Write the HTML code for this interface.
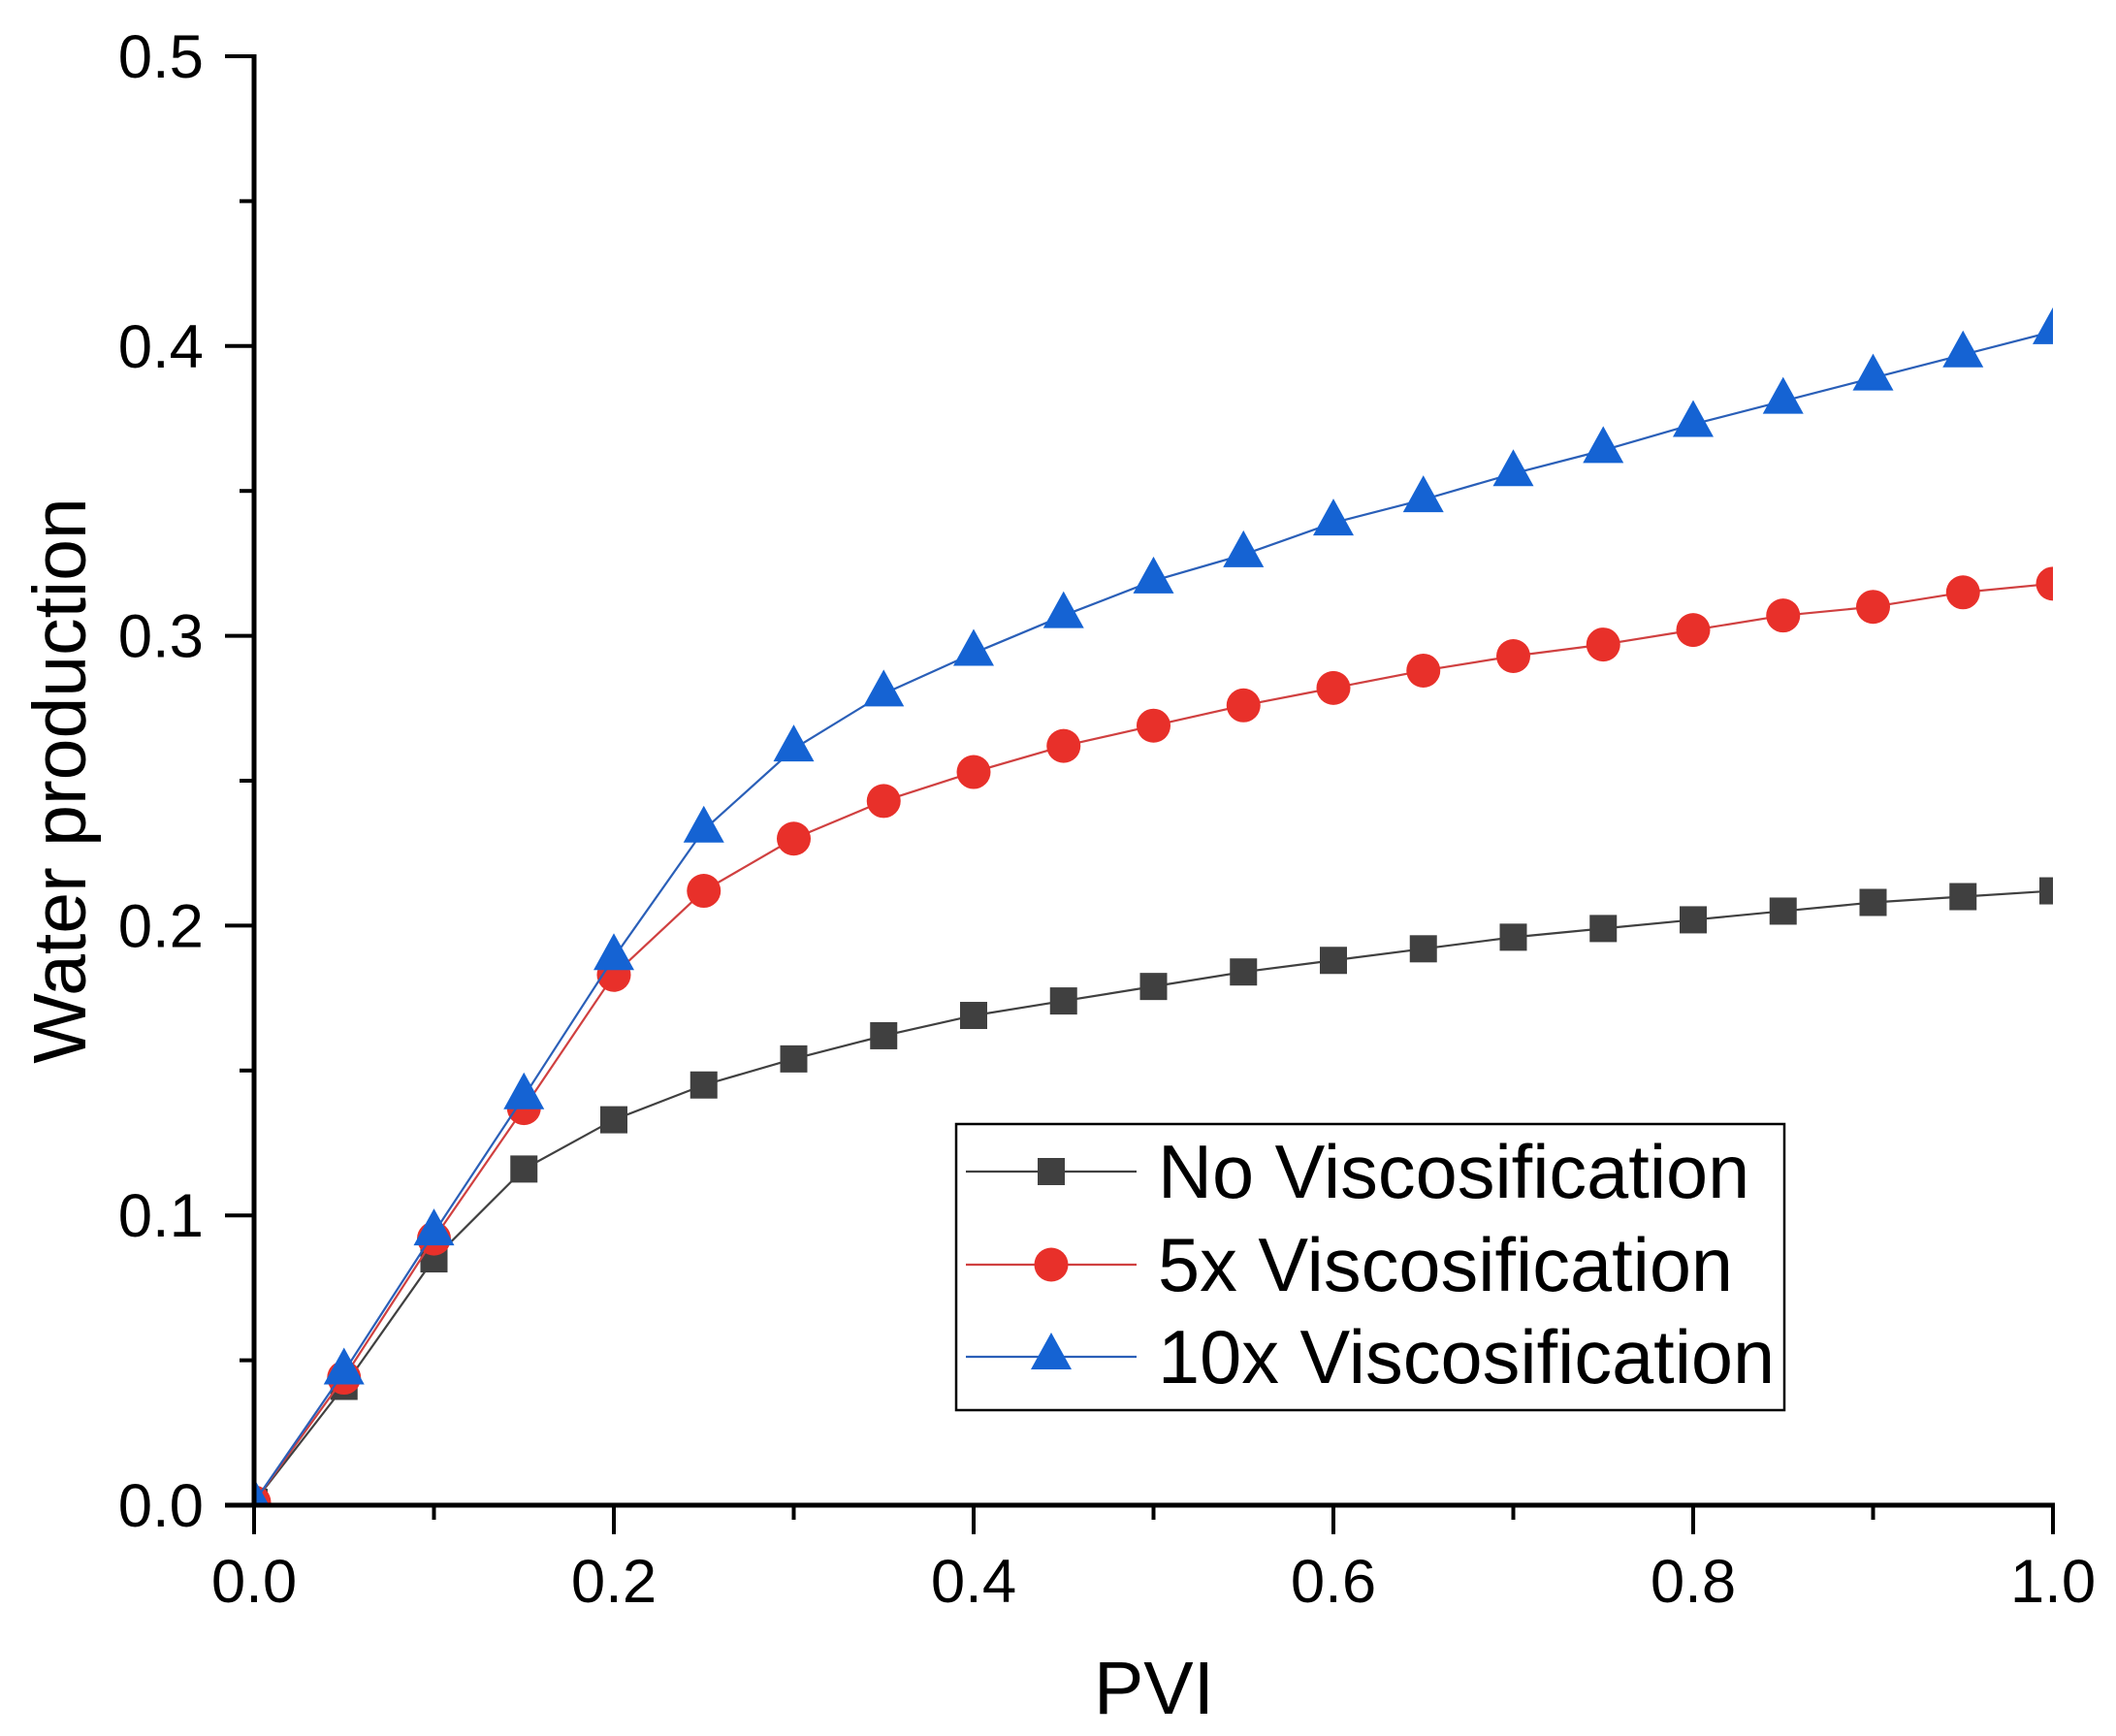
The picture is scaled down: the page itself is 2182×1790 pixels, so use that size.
<!DOCTYPE html>
<html><head><meta charset="utf-8"><style>
html,body{margin:0;padding:0;background:#fff;}
svg{display:block;font-family:"Liberation Sans",Arial,sans-serif;}
</style></head><body>
<svg id="chart" width="2182" height="1790" viewBox="0 0 2182 1790" xmlns="http://www.w3.org/2000/svg">
<defs><clipPath id="plotclip"><rect x="262" y="40" width="1855" height="1512"/></clipPath></defs>
<g id="series" clip-path="url(#plotclip)"></g>
<g id="axes"></g>
<text x="0" y="0" transform="translate(88,805) rotate(-90)" font-size="77" text-anchor="middle" fill="#000">Water production</text>
<text x="1190" y="1767" font-size="77" text-anchor="middle" fill="#000">PVI</text>
<g id="legend"></g>
</svg>
<script>
const pvi = [0,0.05,0.1,0.15,0.2,0.25,0.3,0.35,0.4,0.45,0.5,0.55,0.6,0.65,0.7,0.75,0.8,0.85,0.9,0.95,1.0];
const noVisc = [0.001,0.041,0.085,0.116,0.133,0.145,0.154,0.162,0.169,0.174,0.179,0.184,0.188,0.192,0.196,0.199,0.202,0.205,0.208,0.210,0.212];
const visc5x = [0.001,0.044,0.092,0.137,0.183,0.212,0.230,0.243,0.253,0.262,0.269,0.276,0.282,0.288,0.293,0.297,0.302,0.307,0.310,0.315,0.318];
const visc10x = [0.001,0.046,0.094,0.141,0.189,0.233,0.261,0.280,0.294,0.307,0.319,0.328,0.339,0.347,0.356,0.364,0.373,0.381,0.389,0.397,0.405];
const seriesNames = ["No Viscosification","5x Viscosification","10x Viscosification"];
const xTickLabels = ["0.0","0.2","0.4","0.6","0.8","1.0"];
const yTickLabels = ["0.0","0.1","0.2","0.3","0.4","0.5"];

const NS="http://www.w3.org/2000/svg";
const X0=262,X1=2117,Y0=1552,Y1=58;
const xs=v=>X0+(X1-X0)*v/1.0;
const ys=v=>Y0-(Y0-Y1)*v/0.5;
function mk(tag,attrs,parent){const e=document.createElementNS(NS,tag);for(const k in attrs)e.setAttribute(k,attrs[k]);parent.appendChild(e);return e;}
const axes=document.getElementById('axes');
let a=mk('line',{x1:X0,y1:Y0,x2:X0,y2:Y1-2,stroke:'#000','stroke-width':5},axes);


a=mk('line',{x1:232,y1:Y0,x2:X1+2,y2:Y0,stroke:'#000','stroke-width':5},axes);


for(let i=0;i<=10;i++){const v=i*0.05,y=ys(v),major=i%2===0;
 const t=mk('line',{x1:X0,y1:y,x2:X0-(major?30:15),y2:y,stroke:'#000','stroke-width':4},axes);
 
 }
yTickLabels.forEach((s,i)=>{const t=mk('text',{x:210,y:ys(i*0.1)+22,'font-size':63.5,'text-anchor':'end',fill:'#000'},axes);t.textContent=s;
 
 });
for(let i=0;i<=10;i++){const v=i*0.1,x=xs(v),major=i%2===0;
 const t=mk('line',{x1:x,y1:Y0,x2:x,y2:Y0+(major?30:15),stroke:'#000','stroke-width':4},axes);
 
 }
xTickLabels.forEach((s,i)=>{const t=mk('text',{x:xs(i*0.2),y:1652,'font-size':63.5,'text-anchor':'middle',fill:'#000'},axes);t.textContent=s;
 
 });

const colors=['#404040','#e8302a','#1563d3'];
const lineColors=['#404040','#d04040','#2a5fb8'];
const shapes=['square','circle','triangle'];
function marker(shape,cx,cy,col,parent){let m;
 if(shape==='square')m=mk('rect',{x:cx-14,y:cy-14,width:28,height:28,fill:col},parent);
 else if(shape==='circle')m=mk('circle',{cx:cx,cy:cy,r:17.5,fill:col},parent);
 else m=mk('polygon',{points:`${cx},${cy-25} ${cx+21},${cy+13} ${cx-21},${cy+13}`,fill:col},parent);
 return m;}
const series=document.getElementById('series');
[noVisc,visc5x,visc10x].forEach((arr,si)=>{
 const g=mk('g',{},series);
 
 
 const pl=mk('polyline',{points:arr.map((v,i)=>xs(pvi[i])+','+ys(v)).join(' '),fill:'none',stroke:lineColors[si],'stroke-width':2.2},g);
 
 
 arr.forEach((v,i)=>{const m=marker(shapes[si],xs(pvi[i]),ys(v),colors[si],g);
  
  });
});
const lg=document.getElementById('legend');
const box=mk('rect',{x:986,y:1159,width:854,height:295,fill:'#fff',stroke:'#000','stroke-width':2.5},lg);


const ly=[1208,1304,1399];
seriesNames.forEach((n,si)=>{
 const g=mk('g',{},lg);
 
 
 mk('line',{x1:996,y1:ly[si],x2:1172,y2:ly[si],stroke:lineColors[si],'stroke-width':2.2},g);
 marker(shapes[si],1084,ly[si],colors[si],g);
 const t=mk('text',{x:1194,y:ly[si]+27,'font-size':77.5,fill:'#000'},g);t.textContent=n;
});
</script>
</body></html>
